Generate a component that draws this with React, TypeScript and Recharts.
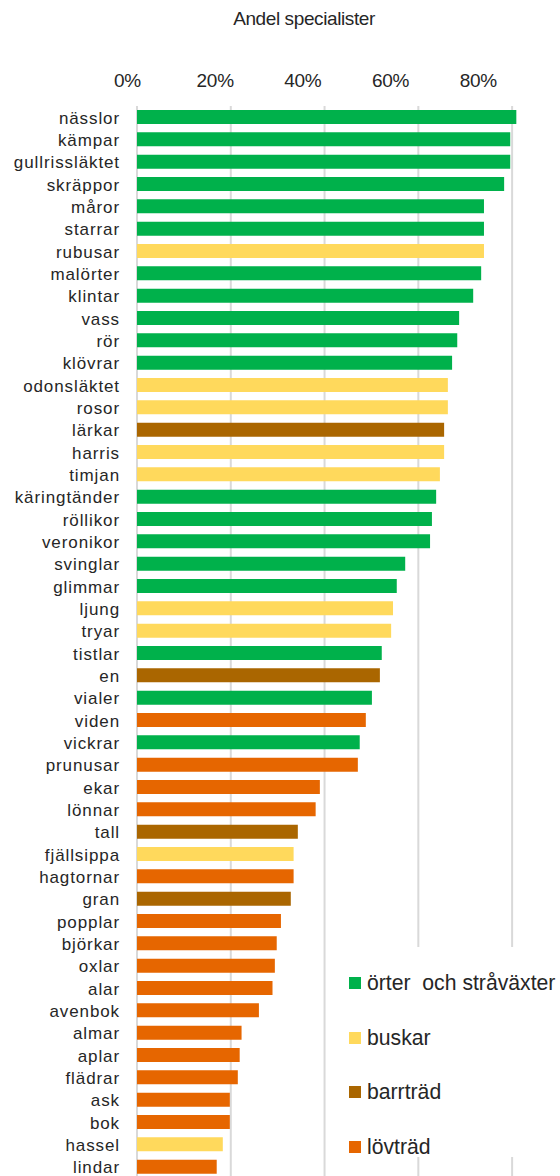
import React from 'react';
import { BarChart, Bar, XAxis, YAxis, CartesianGrid, Cell, Legend } from 'recharts';

const categories = [
  'nässlor', 'kämpar', 'gullrissläktet', 'skräppor', 'måror', 'starrar', 'rubusar', 'malörter',
  'klintar', 'vass', 'rör', 'klövrar', 'odonsläktet', 'rosor', 'lärkar', 'harris', 'timjan',
  'käringtänder', 'röllikor', 'veronikor', 'svinglar', 'glimmar', 'ljung', 'tryar', 'tistlar',
  'en', 'vialer', 'viden', 'vickrar', 'prunusar', 'ekar', 'lönnar', 'tall', 'fjällsippa',
  'hagtornar', 'gran', 'popplar', 'björkar', 'oxlar', 'alar', 'avenbok', 'almar', 'aplar',
  'flädrar', 'ask', 'bok', 'hassel', 'lindar',
];

const values = [
  80.9, 79.6, 79.6, 78.3, 74.0, 74.0, 74.0, 73.4,
  71.7, 68.7, 68.3, 67.2, 66.3, 66.3, 65.5, 65.5, 64.6,
  63.8, 62.9, 62.5, 57.2, 55.4, 54.6, 54.2, 52.2,
  51.8, 50.1, 48.8, 47.5, 47.1, 39.0, 38.1, 34.3, 33.4,
  33.4, 32.8, 30.7, 29.8, 29.4, 28.9, 26.0, 22.3, 21.9,
  21.5, 19.8, 19.8, 18.3, 17.0,
];

// 0 = örter och stråväxter, 1 = buskar, 2 = barrträd, 3 = lövträd
const groups = [
  0, 0, 0, 0, 0, 0, 1, 0,
  0, 0, 0, 0, 1, 1, 2, 1, 1,
  0, 0, 0, 0, 0, 1, 1, 0,
  2, 0, 3, 0, 3, 3, 3, 2, 1,
  3, 2, 3, 3, 3, 3, 3, 3, 3,
  3, 3, 3, 1, 3,
];

const groupNames = ['örter  och stråväxter', 'buskar', 'barrträd', 'lövträd'];
const groupColors = ['#00B14B', '#FFD95C', '#AA6600', '#E66600'];

const xTicks = [0, 20, 40, 60, 80];
const title = 'Andel specialister';

const data = categories.map((name, i) => ({ name, value: values[i], group: groups[i] }));

const FONT = '"Liberation Sans", Arial, Helvetica, sans-serif';
const TEXT = '#262626';

const XTick = (props: any) => {
  const { x, y, payload } = props;
  const shift = -9.5 - payload.value * 0.305;
  return (
    <text x={x + shift} y={y} textAnchor="middle" fontFamily={FONT} fontSize={19} fill={TEXT} letterSpacing={-0.3}>
      {`${payload.value}%`}
    </text>
  );
};

const YTick = (props: any) => {
  const { x, y, payload } = props;
  return (
    <text x={x} y={y} dy={6.5} textAnchor="end" fontFamily={FONT} fontSize={17} fill={TEXT} letterSpacing={0.9}>
      {payload.value}
    </text>
  );
};

const LegendContent = () => (
  <div style={{ width: '100%', height: '100%', background: '#fff', position: 'relative' }}>
    {groupNames.map((g, i) => (
      <div
        key={g}
        style={{
          position: 'absolute',
          left: 14,
          top: 24 + i * 54.7,
          height: 24,
          display: 'flex',
          alignItems: 'center',
          whiteSpace: 'pre',
          fontFamily: FONT,
          fontSize: 21.2,
          color: TEXT,
        }}
      >
        <span style={{ display: 'inline-block', width: 12, height: 12, background: groupColors[i], marginRight: 6 }} />
        <span>{g}</span>
      </div>
    ))}
  </div>
);

export default function App() {
  return (
    <div style={{ position: 'relative', width: 560, height: 1176, overflow: 'hidden', background: '#fff' }}>
      <style>{'html,body{margin:0;padding:0;overflow:hidden;}'}</style>
      <div
        style={{
          position: 'absolute',
          left: 304,
          top: 8,
          transform: 'translateX(-50%)',
          fontFamily: FONT,
          fontSize: 19,
          color: TEXT,
          whiteSpace: 'nowrap',
          letterSpacing: -0.4,
          zIndex: 2,
        }}
      >
        {title}
      </div>
      <BarChart
        width={560}
        height={1178}
        data={data}
        layout="vertical"
        margin={{ top: 76, right: 1, bottom: 0, left: 0 }}
        barSize={14}
      >
        <CartesianGrid horizontal={false} verticalValues={xTicks} stroke="#d9d9d9" strokeWidth={2} />
        <XAxis
          type="number"
          orientation="top"
          domain={[0, 90]}
          ticks={xTicks}
          height={30}
          axisLine={false}
          tickLine={false}
          tickSize={0}
          tickMargin={19}
          tick={<XTick />}
          interval={0}
        />
        <YAxis
          type="category"
          dataKey="name"
          width={137}
          axisLine={false}
          tickLine={false}
          tickSize={0}
          tickMargin={17}
          tick={<YTick />}
          interval={0}
        />
        <Legend
          layout="vertical"
          align="center"
          verticalAlign="middle"
          content={<LegendContent />}
          wrapperStyle={{ position: 'absolute', left: 335, top: 947, width: 225, height: 210 }}
        />
        <Bar dataKey="value" isAnimationActive={false}>
          {data.map((d, i) => (
            <Cell key={i} fill={groupColors[d.group]} />
          ))}
        </Bar>
      </BarChart>
    </div>
  );
}
